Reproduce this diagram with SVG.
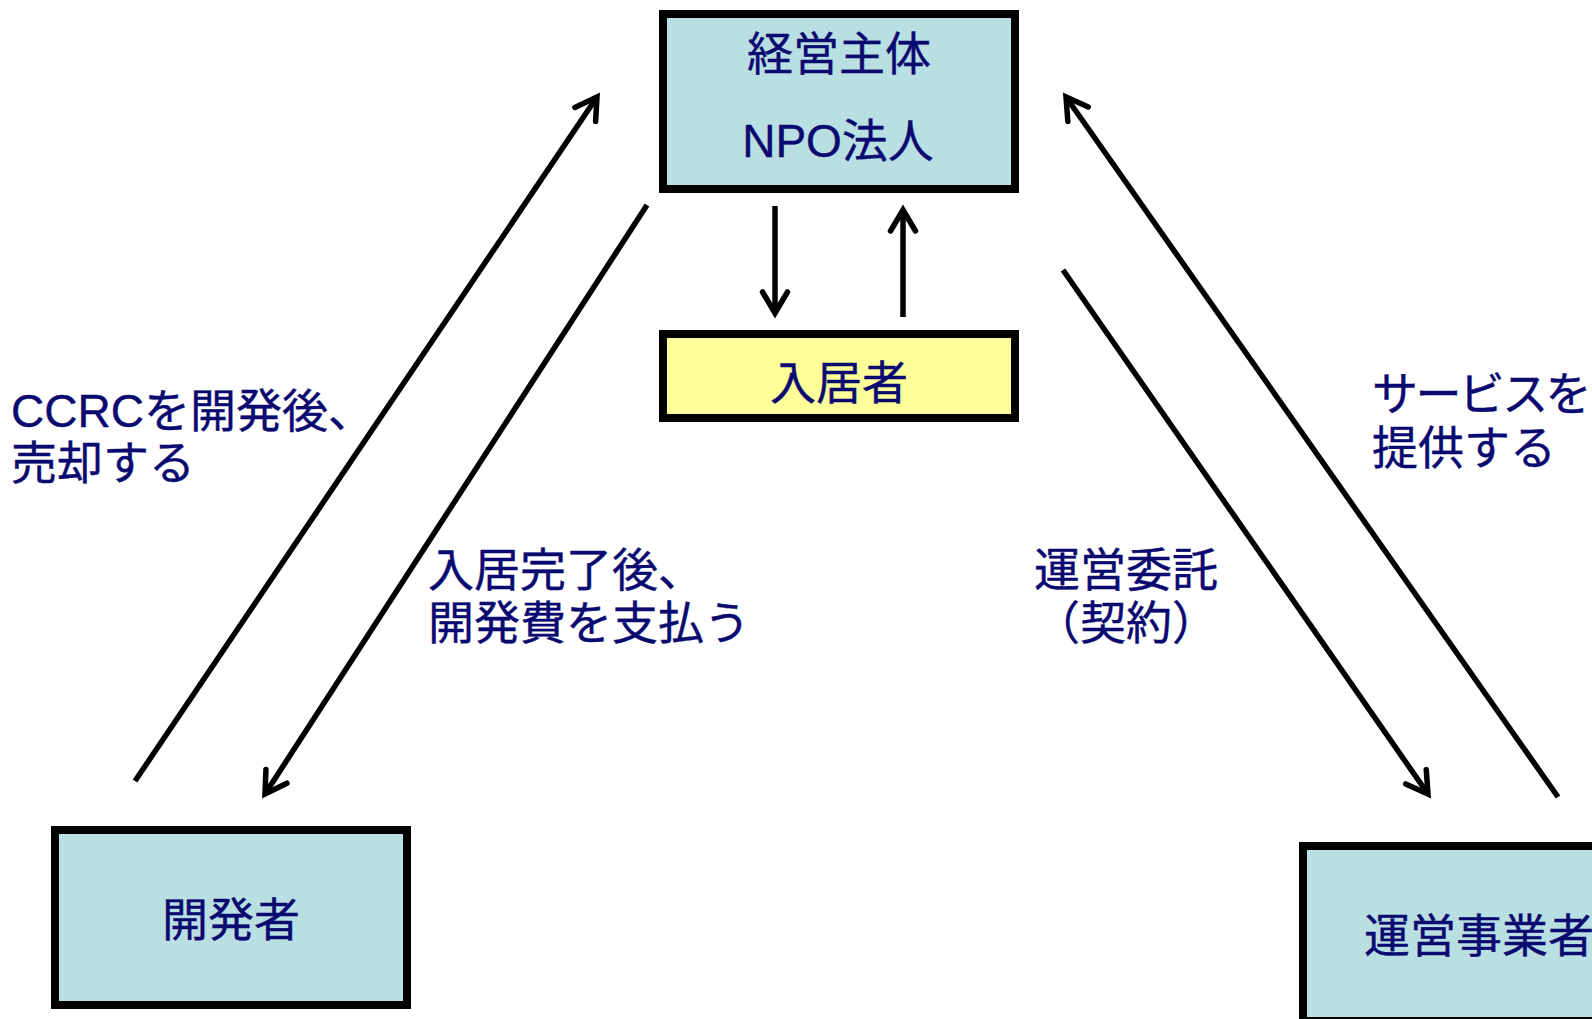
<svg xmlns="http://www.w3.org/2000/svg" width="1592" height="1019" viewBox="0 0 1592 1019">
  <style>
    .box { fill: #BADFE3; stroke: #000; stroke-width: 8; }
    .ybox { fill: #FFFF99; stroke: #000; stroke-width: 8; }
    .t { font-family: "Liberation Sans", "Noto Sans CJK JP", sans-serif; font-size: 46px; fill: #0A0A70; stroke: #0A0A70; stroke-width: 0.4; }
    .c { text-anchor: middle; }
    .ln { stroke: #000; stroke-width: 5.5; fill: none; }
  </style>
  <defs>
    <marker id="ah" markerUnits="userSpaceOnUse" orient="auto" markerWidth="50" markerHeight="50" viewBox="-30 -25 50 50" refX="0" refY="0" overflow="visible">
      <path d="M-21,-12.5 L0,0 L-21,12.5" fill="none" stroke="#000" stroke-width="5.5" stroke-linecap="round" stroke-linejoin="miter"/>
    </marker>
  </defs>
  <rect width="1592" height="1019" fill="#fff"/>

  <g id="keiei">
    <rect class="box" x="663" y="14" width="352" height="175"/>
    <text class="t c" x="839" y="70">経営主体</text>
    <text class="t c" x="838" y="157">NPO法人</text>
  </g>
  <g id="nyukyosha">
    <rect class="ybox" x="663" y="334" width="352" height="84"/>
    <text class="t c" x="839" y="399">入居者</text>
  </g>
  <g id="kaihatsusha">
    <rect class="box" x="55" y="830" width="352" height="175"/>
    <text class="t c" x="231" y="936">開発者</text>
  </g>
  <g id="uneijigyosha">
    <rect class="box" x="1303" y="846" width="352" height="175"/>
    <text class="t c" x="1479" y="952">運営事業者</text>
  </g>

  <g id="connectors">
    <line class="ln" x1="135" y1="781" x2="597" y2="97" marker-end="url(#ah)"/>
    <line class="ln" x1="647" y1="205" x2="265" y2="794" marker-end="url(#ah)"/>
    <line class="ln" x1="1063" y1="270" x2="1428" y2="794" marker-end="url(#ah)"/>
    <line class="ln" x1="1558" y1="797" x2="1066" y2="97" marker-end="url(#ah)"/>
    <line class="ln" x1="775" y1="206" x2="775" y2="313" marker-end="url(#ah)"/>
    <line class="ln" x1="903" y1="317" x2="903" y2="210" marker-end="url(#ah)"/>
  </g>

  <g id="labels">
    <text class="t" x="11" y="427">CCRCを開発後、</text>
    <text class="t" x="11" y="479">売却する</text>
    <text class="t" x="428" y="586">入居完了後、</text>
    <text class="t" x="428" y="639">開発費を支払う</text>
    <text class="t c" x="1126" y="586">運営委託</text>
    <text class="t c" x="1126" y="639">（契約）</text>
    <text class="t" x="1372" y="410" letter-spacing="-2.6">サービスを</text>
    <text class="t" x="1372" y="464">提供する</text>
  </g>
</svg>
